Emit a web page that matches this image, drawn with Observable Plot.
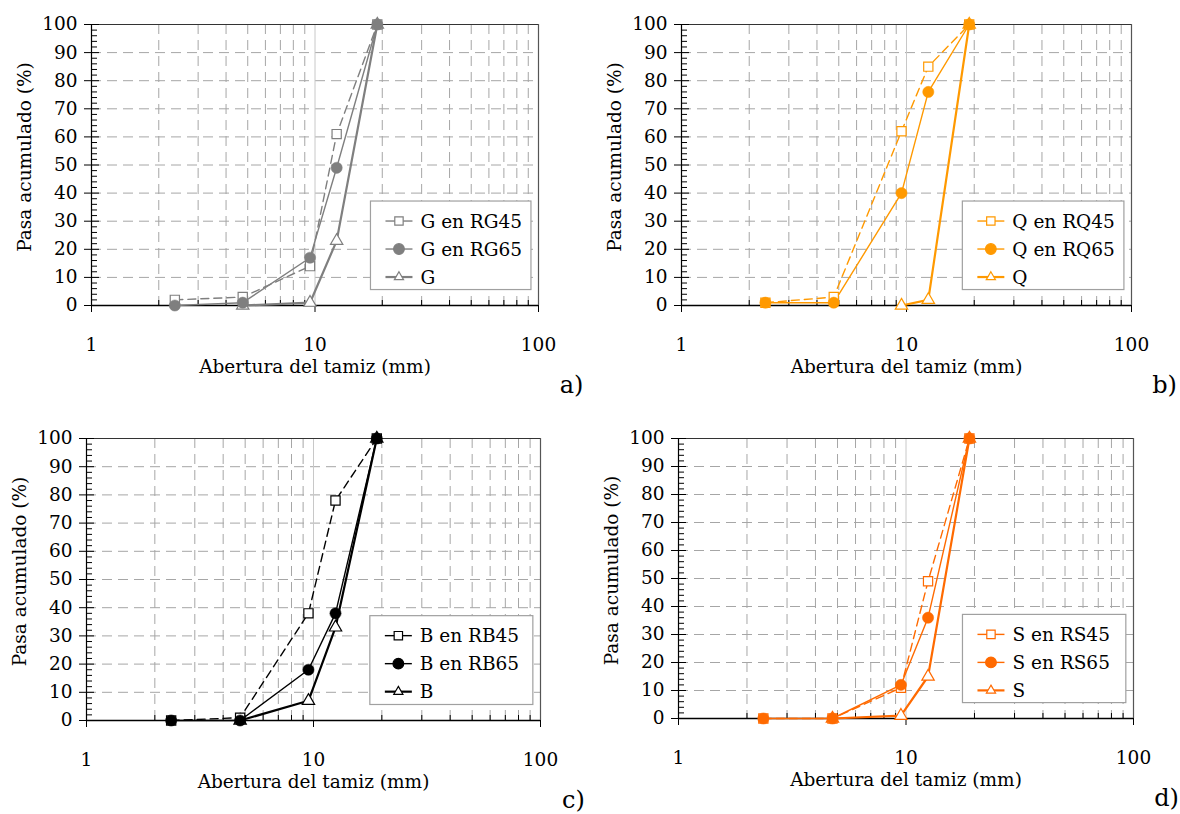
<!DOCTYPE html>
<html><head><meta charset="utf-8">
<script src="https://cdn.jsdelivr.net/npm/d3@7"></script>
<script src="https://cdn.jsdelivr.net/npm/@observablehq/plot@0.6"></script>
<style>
body{margin:0;background:#fff;}
#root{position:relative;width:1180px;height:814px;background:#fff;overflow:hidden;font-family:"DejaVu Serif",serif;}
.panel{position:absolute;}
</style></head><body><div id="root"></div>
<script>
// ---- shared axis data ----
const sieves = [2.36, 4.75, 9.5, 12.5, 19];
const xTicks = [1, 10, 100];
const xMinor = [2, 3, 4, 5, 6, 7, 8, 9, 20, 30, 40, 50, 60, 70, 80, 90];
const yTicks = [0, 10, 20, 30, 40, 50, 60, 70, 80, 90, 100];
const yMinor = d3.range(2, 100, 2).filter(d => d % 10 !== 0);
const xTitle = "Abertura del tamiz (mm)";
const yTitle = "Pasa acumulado (%)";

// ---- panel a: G ----
const aLabels = ["G en RG45", "G en RG65", "G"];
const aR45 = [2, 3, 14, 61, 100];
const aR65 = [0, 1, 17, 49, 100];
const aPlainSieves = [4.75, 9.5, 12.5, 19];
const aPlain = [0, 1, 23, 100];

// ---- panel b: Q ----
const bLabels = ["Q en RQ45", "Q en RQ65", "Q"];
const bR45 = [1, 3, 62, 85, 100];
const bR65 = [1, 1, 40, 76, 100];
const bPlainSieves = [9.5, 12.5, 19];
const bPlain = [0, 2, 100];

// ---- panel c: B ----
const cLabels = ["B en RB45", "B en RB65", "B"];
const cR45 = [0, 1, 38, 78, 100];
const cR65 = [0, 0, 18, 38, 100];
const cPlainSieves = [4.75, 9.5, 12.5, 19];
const cPlain = [0, 7, 33, 100];

// ---- panel d: S ----
const dLabels = ["S en RS45", "S en RS65", "S"];
const dR45 = [0, 0, 11, 49, 100];
const dR65 = [0, 0, 12, 36, 100];
const dPlainSieves = [4.75, 9.5, 12.5, 19];
const dPlain = [0, 1, 15, 100];

const letters = ["a)", "b)", "c)", "d)"];

// ---- layout / style ----
const FONT = '"DejaVu Serif", serif';
const layouts = [
  {left: 0,   top: 0,   width: 590, height: 410, ml: 91, mr: 52, mt: 24, mb: 105, color: "#7f7f7f"},
  {left: 590, top: 0,   width: 590, height: 410, ml: 91, mr: 49, mt: 24, mb: 105, color: "#FF9900"},
  {left: 0,   top: 414, width: 590, height: 400, ml: 86, mr: 50, mt: 24, mb: 94,  color: "#000000"},
  {left: 590, top: 414, width: 590, height: 400, ml: 88, mr: 47, mt: 24, mb: 96,  color: "#FF6A00"}
];
const legendBox = {x1: 17.8, x2: 93, y1: 5.5, y2: 37};

function rows(xs, ys) { return xs.map((x, i) => ({x, y: ys[i]})); }

function makePanel(L, labels, v45, v65, plainX, plainY, letter) {
  const d45 = rows(sieves, v45), d65 = rows(sieves, v65), d0 = rows(plainX, plainY);
  const col = L.color;
  const grid = {stroke: "#a6a6a6", strokeWidth: 1, strokeDasharray: "10,6"};
  const plot = Plot.plot({
    width: L.width, height: L.height,
    marginLeft: L.ml, marginRight: L.mr, marginTop: L.mt, marginBottom: L.mb,
    style: {fontFamily: FONT, fontSize: "18px", color: "#000", background: "transparent", overflow: "visible"},
    x: {type: "log", domain: [1, 100], axis: null},
    y: {domain: [0, 100], axis: null},
    marks: [
      Plot.ruleY(yTicks.filter(d => d > 0 && d < 100), grid),
      Plot.ruleX(xMinor, grid),
      Plot.ruleX([10], {stroke: "#c8c8c8", strokeWidth: 1}),
      Plot.ruleX([100], {stroke: "#555", strokeWidth: 1.2}),
      Plot.ruleY([100], {stroke: "#333", strokeWidth: 1.2}),
      // y axis ticks
      Plot.axisY(yMinor, {anchor: "left", tickSize: 6, dx: 6, tickFormat: () => "", label: null}),
      Plot.axisY(yTicks, {anchor: "left", tickSize: 15, dx: 8, tickFormat: () => "", label: null}),
      Plot.axisY(yTicks, {anchor: "left", tickSize: 0, tickPadding: 14, label: null, fontSize: 18.5}),
      // x axis ticks
      Plot.axisX(xMinor, {anchor: "bottom", tickSize: 5, dy: -5, tickFormat: () => "", label: null}),
      Plot.axisX(xTicks, {anchor: "bottom", tickSize: 7, tickPadding: 25, label: null, fontSize: 18.5, tickFormat: d => String(d)}),
      Plot.ruleY([0], {stroke: "#000", strokeWidth: 1.5}),
      Plot.ruleX([1], {stroke: "#000", strokeWidth: 1.2}),
      // data lines
      Plot.line(d45, {x: "x", y: "y", stroke: col, strokeWidth: 1.4, strokeDasharray: "8,5"}),
      Plot.line(d65, {x: "x", y: "y", stroke: col, strokeWidth: 1.4}),
      Plot.line(d0, {x: "x", y: "y", stroke: col, strokeWidth: 2.2}),
      // markers
      Plot.dot(d0, {x: "x", y: "y", symbol: "triangle", r: 4.6, fill: "white", stroke: col, strokeWidth: 1.2}),
      Plot.dot(d45, {x: "x", y: "y", symbol: "square", r: 5.2, fill: "white", stroke: col, strokeWidth: 1.2}),
      Plot.dot(d65, {x: "x", y: "y", symbol: "circle", r: 5.6, fill: col, stroke: col, strokeWidth: 0.5}),
      // titles
      Plot.text([xTitle], {text: d => d, frameAnchor: "bottom", dy: 67, fontSize: 18.5}),
      Plot.text([yTitle], {text: d => d, frameAnchor: "left", textAnchor: "middle", dx: -66, dy: -8, rotate: -90, fontSize: 18.5}),
      Plot.text([letter], {text: d => d, frameAnchor: "bottom-right", dx: 33, dy: 87, fontSize: 24, textAnchor: "middle"})
    ]
  });

  // legend
  const xs = plot.scale("x"), ys = plot.scale("y");
  const bx1 = xs.apply(legendBox.x1), bx2 = xs.apply(legendBox.x2);
  const by1 = ys.apply(legendBox.y2), by2 = ys.apply(legendBox.y1);
  const g = d3.select(plot).append("g").attr("font-family", FONT).attr("font-size", 18.5).attr("text-anchor", "start");
  g.append("rect").attr("x", bx1).attr("y", by1).attr("width", bx2 - bx1).attr("height", by2 - by1)
    .attr("fill", "white").attr("stroke", "#a0a0a0").attr("stroke-width", 1.2);
  const specs = [
    {sym: d3.symbolSquare, size: 70, fill: "white", w: 1.4},
    {sym: d3.symbolCircle, size: 90, fill: col, w: 1.4},
    {sym: d3.symbolTriangle2 || d3.symbolTriangle, size: 60, fill: "white", w: 2.2}
  ];
  labels.forEach((lab, i) => {
    const cy = by1 + 20 + 28 * i;
    const s = specs[i];
    g.append("line").attr("x1", bx1 + 15).attr("x2", bx1 + 42).attr("y1", cy).attr("y2", cy)
      .attr("stroke", col).attr("stroke-width", s.w);
    g.append("path").attr("d", d3.symbol(s.sym, s.size)()).attr("transform", `translate(${bx1 + 28.5},${cy})`)
      .attr("fill", s.fill).attr("stroke", col).attr("stroke-width", 1.2);
    g.append("text").attr("x", bx1 + 50).attr("y", cy).attr("dy", "0.35em").attr("fill", "#000")
      .attr("text-anchor", "start").text(lab);
  });

  const div = document.createElement("div");
  div.className = "panel";
  div.style.left = L.left + "px";
  div.style.top = L.top + "px";
  div.appendChild(plot);
  document.getElementById("root").appendChild(div);
}

makePanel(layouts[0], aLabels, aR45, aR65, aPlainSieves, aPlain, letters[0]);
makePanel(layouts[1], bLabels, bR45, bR65, bPlainSieves, bPlain, letters[1]);
makePanel(layouts[2], cLabels, cR45, cR65, cPlainSieves, cPlain, letters[2]);
makePanel(layouts[3], dLabels, dR45, dR65, dPlainSieves, dPlain, letters[3]);
</script>
</body></html>
